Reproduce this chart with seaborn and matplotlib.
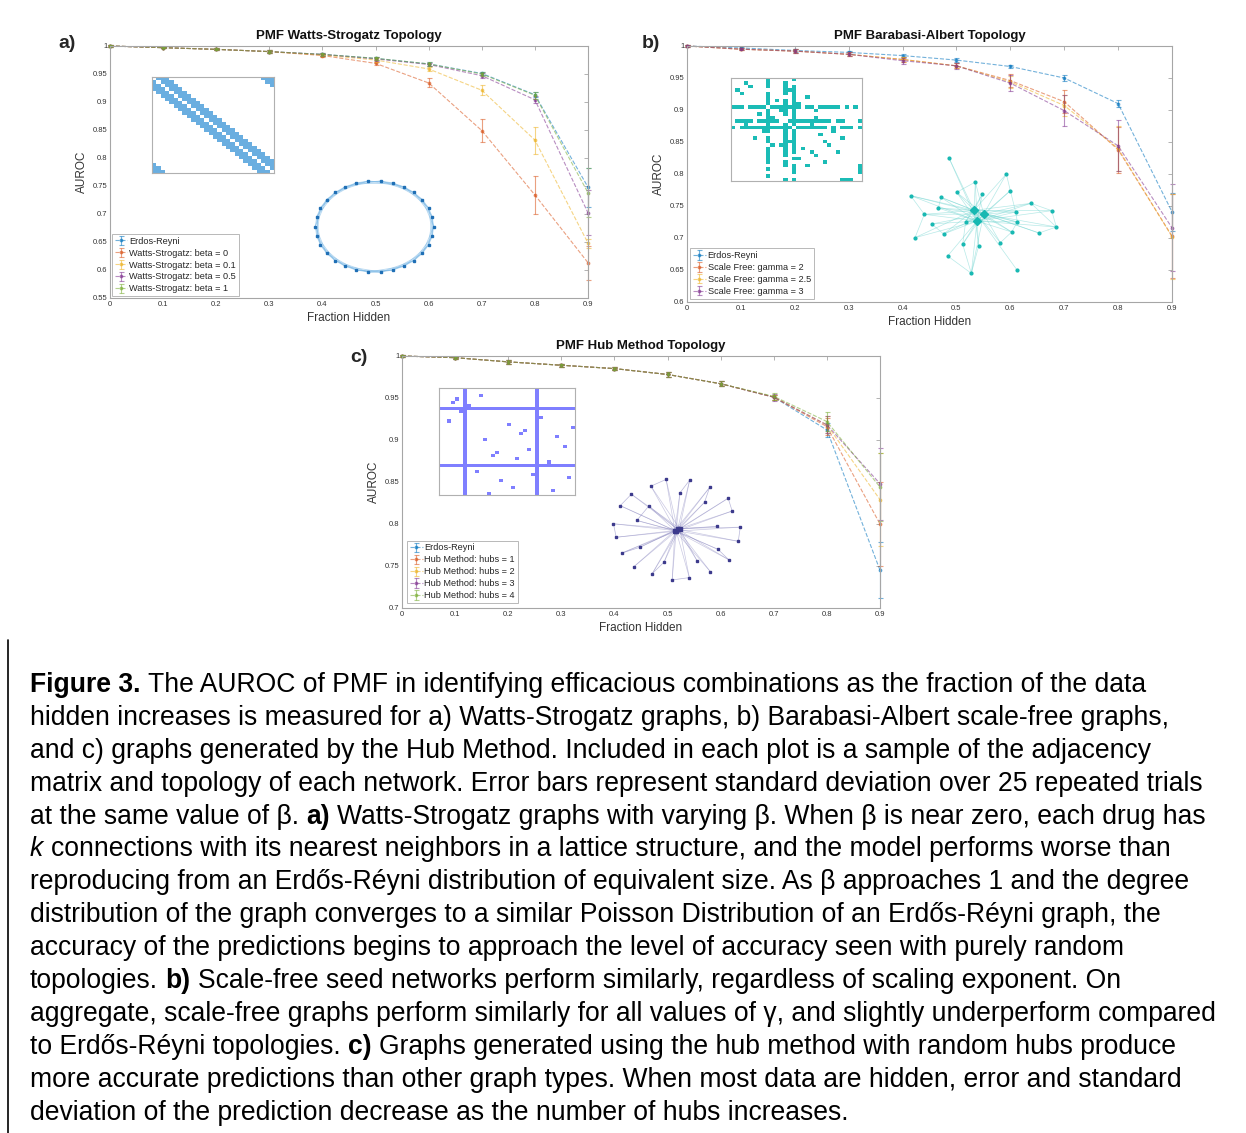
import re
import numpy as np
import matplotlib
matplotlib.use("Agg")
import matplotlib.pyplot as plt
from matplotlib.colors import ListedColormap
import seaborn as sns

# ---- data ----
frac_hidden = [0, 0.1, 0.2, 0.3, 0.4, 0.5, 0.6, 0.7, 0.8, 0.9]
x_tick_labels = ["0", "0.1", "0.2", "0.3", "0.4", "0.5", "0.6", "0.7", "0.8", "0.9"]

# a) Watts-Strogatz
ws_labels = ["Erdos-Reyni", "Watts-Strogatz: beta = 0", "Watts-Strogatz: beta = 0.1",
             "Watts-Strogatz: beta = 0.5", "Watts-Strogatz: beta = 1"]
ws_er = [1.0, 0.997, 0.994, 0.990, 0.985, 0.978, 0.968, 0.951, 0.913, 0.748]
ws_b0 = [1.0, 0.997, 0.994, 0.990, 0.983, 0.969, 0.934, 0.849, 0.734, 0.613]
ws_b01 = [1.0, 0.997, 0.994, 0.990, 0.984, 0.975, 0.959, 0.921, 0.832, 0.648]
ws_b05 = [1.0, 0.997, 0.994, 0.990, 0.985, 0.977, 0.967, 0.947, 0.904, 0.702]
ws_b1 = [1.0, 0.997, 0.994, 0.990, 0.985, 0.978, 0.968, 0.950, 0.912, 0.738]
ws_er_sd = [0.001, 0.001, 0.002, 0.002, 0.002, 0.003, 0.003, 0.003, 0.004, 0.035]
ws_b0_sd = [0.001, 0.001, 0.002, 0.002, 0.002, 0.003, 0.008, 0.021, 0.034, 0.030]
ws_b01_sd = [0.001, 0.001, 0.002, 0.002, 0.002, 0.003, 0.004, 0.009, 0.024, 0.008]
ws_b05_sd = [0.001, 0.001, 0.002, 0.002, 0.002, 0.003, 0.003, 0.004, 0.006, 0.040]
ws_b1_sd = [0.001, 0.001, 0.002, 0.002, 0.002, 0.003, 0.003, 0.004, 0.006, 0.044]
ws_yticks = [0.55, 0.6, 0.65, 0.7, 0.75, 0.8, 0.85, 0.9, 0.95, 1.0]
ws_yticklabels = ["0.55", "0.6", "0.65", "0.7", "0.75", "0.8", "0.85", "0.9", "0.95", "1"]

# b) Barabasi-Albert
ba_labels = ["Erdos-Reyni", "Scale Free: gamma = 2", "Scale Free: gamma = 2.5", "Scale Free: gamma = 3"]
ba_er = [1.0, 0.997, 0.993, 0.990, 0.985, 0.978, 0.968, 0.950, 0.910, 0.741]
ba_g2 = [1.0, 0.995, 0.992, 0.987, 0.979, 0.969, 0.946, 0.913, 0.838, 0.703]
ba_g25 = [1.0, 0.995, 0.992, 0.987, 0.979, 0.969, 0.944, 0.907, 0.840, 0.702]
ba_g3 = [1.0, 0.995, 0.992, 0.987, 0.977, 0.969, 0.942, 0.899, 0.844, 0.716]
ba_er_sd = [0.001, 0.002, 0.003, 0.002, 0.002, 0.003, 0.003, 0.004, 0.005, 0.030]
ba_g2_sd = [0.001, 0.002, 0.003, 0.003, 0.004, 0.004, 0.010, 0.018, 0.036, 0.065]
ba_g25_sd = [0.001, 0.002, 0.003, 0.003, 0.004, 0.004, 0.009, 0.017, 0.035, 0.066]
ba_g3_sd = [0.001, 0.002, 0.003, 0.003, 0.005, 0.005, 0.012, 0.024, 0.040, 0.068]
ba_yticks = [0.6, 0.65, 0.7, 0.75, 0.8, 0.85, 0.9, 0.95, 1.0]
ba_yticklabels = ["0.6", "0.65", "0.7", "0.75", "0.8", "0.85", "0.9", "0.95", "1"]

# c) Hub method
hm_labels = ["Erdos-Reyni", "Hub Method: hubs = 1", "Hub Method: hubs = 2",
             "Hub Method: hubs = 3", "Hub Method: hubs = 4"]
hm_er = [1.0, 0.998, 0.993, 0.989, 0.985, 0.978, 0.967, 0.951, 0.912, 0.745]
hm_h1 = [1.0, 0.998, 0.993, 0.989, 0.985, 0.978, 0.967, 0.951, 0.916, 0.800]
hm_h2 = [1.0, 0.998, 0.993, 0.989, 0.985, 0.978, 0.967, 0.951, 0.918, 0.829]
hm_h3 = [1.0, 0.998, 0.993, 0.989, 0.985, 0.978, 0.967, 0.951, 0.918, 0.848]
hm_h4 = [1.0, 0.998, 0.993, 0.989, 0.985, 0.978, 0.967, 0.952, 0.922, 0.844]
hm_er_sd = [0.001, 0.001, 0.002, 0.002, 0.002, 0.003, 0.003, 0.003, 0.008, 0.033]
hm_h1_sd = [0.001, 0.001, 0.002, 0.002, 0.002, 0.003, 0.003, 0.003, 0.010, 0.050]
hm_h2_sd = [0.001, 0.001, 0.002, 0.002, 0.002, 0.003, 0.003, 0.003, 0.010, 0.055]
hm_h3_sd = [0.001, 0.001, 0.002, 0.002, 0.002, 0.003, 0.003, 0.004, 0.010, 0.043]
hm_h4_sd = [0.001, 0.001, 0.002, 0.002, 0.002, 0.003, 0.003, 0.004, 0.011, 0.040]
hm_yticks = [0.7, 0.75, 0.8, 0.85, 0.9, 0.95, 1.0]
hm_yticklabels = ["0.7", "0.75", "0.8", "0.85", "0.9", "0.95", "1"]

# inset graphs (positions in the inset's own pixel frame)
ba_node_x = [162, 334, 241, 346, 185, 262, 138, 47, 408, 130, 470, 362, 88, 110, 212,
             367, 484, 146, 350, 432, 60, 316, 203, 251, 158, 366, 229, 237, 266, 246]
ba_node_y = [24, 72, 96, 122, 127, 133, 142, 137, 160, 174, 182, 186, 193, 222, 215,
             216, 231, 252, 246, 249, 263, 278, 283, 288, 318, 360, 370, 181, 192, 213]
ba_edges = [(0, 27), (0, 29), (1, 27), (1, 28), (2, 27), (2, 29), (2, 28), (3, 28), (3, 29),
            (4, 27), (4, 28), (4, 29), (5, 27), (5, 29), (6, 28), (6, 29), (6, 27),
            (7, 27), (7, 28), (7, 29), (8, 27), (8, 28), (8, 29), (9, 28), (9, 29), (9, 27),
            (10, 27), (10, 29), (11, 27), (11, 28), (11, 29), (12, 27), (12, 28), (12, 29),
            (13, 28), (13, 29), (14, 27), (14, 28), (14, 29), (15, 27), (15, 29), (15, 28),
            (16, 28), (16, 29), (17, 27), (17, 28), (17, 29), (18, 27), (18, 29), (18, 28),
            (19, 28), (19, 27), (20, 27), (20, 29), (21, 27), (21, 28), (22, 28), (22, 29),
            (23, 27), (23, 29), (24, 29), (25, 27), (26, 28), (26, 29),
            (27, 28), (28, 29), (27, 29), (10, 16), (8, 16), (19, 16), (24, 26), (22, 26),
            (23, 26), (2, 4), (11, 15), (1, 3), (8, 10), (13, 17), (6, 9), (5, 14),
            (18, 21), (7, 12), (12, 20), (3, 11), (15, 18), (14, 22)]
ba_hubs = [27, 28, 29]

hm_node_x = [196, 266, 151, 237, 325, 93, 380, 60, 145, 310, 392, 109, 40, 346, 416,
             48, 410, 118, 65, 350, 382, 288, 190, 100, 327, 155, 265, 214,
             222, 230, 236, 226]
hm_node_y = [28, 30, 48, 68, 52, 72, 84, 106, 107, 96, 122, 150, 160, 168, 170,
             200, 212, 230, 247, 236, 267, 270, 274, 288, 302, 308, 320, 327,
             180, 176, 174, 182]
hm_extra_edges = [(0, 2), (1, 3), (4, 9), (5, 7), (8, 11), (6, 10), (12, 15), (14, 16),
                  (17, 18), (19, 20), (26, 27), (25, 22)]
hm_hubs = [28, 29, 30, 31]

hm_mat_size = 34
hm_mat_hub_idx = [6, 24]
hm_mat_dots = [(3, 4), (4, 3), (2, 10), (10, 2), (7, 5), (5, 7), (11, 17), (13, 21), (14, 20),
               (16, 11), (20, 14), (21, 13), (19, 22), (22, 19), (9, 25), (15, 29), (18, 31),
               (12, 33), (23, 27), (27, 23), (26, 9), (29, 15), (31, 18), (33, 12), (32, 28),
               (28, 32)]

caption_lines = [
    "**Figure 3.** The AUROC of PMF in identifying efficacious combinations as the fraction of the data",
    "hidden increases is measured for a) Watts-Strogatz graphs, b) Barabasi-Albert scale-free graphs,",
    "and c) graphs generated by the Hub Method. Included in each plot is a sample of the adjacency",
    "matrix and topology of each network. Error bars represent standard deviation over 25 repeated trials",
    "at the same value of β. **a)** Watts-Strogatz graphs with varying β. When β is near zero, each drug has",
    "*k* connections with its nearest neighbors in a lattice structure, and the model performs worse than",
    "reproducing from an Erdős-Réyni distribution of equivalent size. As β approaches 1 and the degree",
    "distribution of the graph converges to a similar Poisson Distribution of an Erdős-Réyni graph, the",
    "accuracy of the predictions begins to approach the level of accuracy seen with purely random",
    "topologies. **b)** Scale-free seed networks perform similarly, regardless of scaling exponent. On",
    "aggregate, scale-free graphs perform similarly for all values of γ, and slightly underperform compared",
    "to Erdős-Réyni topologies. **c)** Graphs generated using the hub method with random hubs produce",
    "more accurate predictions than other graph types. When most data are hidden, error and standard",
    "deviation of the prediction decrease as the number of hubs increases.",
]

# ---- style ----
sns.set_theme(style="white")
plt.rcParams["font.family"] = ["Liberation Sans", "DejaVu Sans"]
matlab = sns.color_palette(["#0072BD", "#D95319", "#EDB120", "#7E2F8E", "#77AC30"])
AX_GREY = "#a6a6a6"

W, H = 1246, 1133
fig = plt.figure(figsize=(W / 100, H / 100), dpi=100)


def px_axes(x0, y0, x1, y1):
    return fig.add_axes([x0 / W, 1 - y1 / H, (x1 - x0) / W, (y1 - y0) / H])


def draw_panel(rect, title, labels, means, sds, ylim, yticks, yticklabels, legpad):
    ax = px_axes(*rect)
    handles = []
    for label, mean, sd, color in zip(labels, means, sds, matlab):
        sns.lineplot(x=frac_hidden, y=mean, ax=ax, color=color, linestyle="--", lw=0.8,
                     marker=".", markersize=4, mec=color, alpha=0.55, errorbar=None,
                     clip_on=False)
        line = ax.lines[-1]
        eb = ax.errorbar(frac_hidden, mean, yerr=sd, fmt="none", ecolor=color,
                         elinewidth=0.8, capsize=1.8, capthick=0.8, alpha=0.55)
        for art in eb.lines[1] + eb.lines[2]:
            art.set_clip_on(False)
        handles.append((line, eb))
    ax.set_xlim(0, 0.9)
    ax.set_ylim(*ylim)
    ax.set_xticks(frac_hidden)
    ax.set_xticklabels(x_tick_labels)
    ax.set_yticks(yticks)
    ax.set_yticklabels(yticklabels)
    ax.tick_params(direction="in", top=True, right=True, length=3, width=0.6,
                   color=AX_GREY, labelsize=5.5, labelcolor="#333333", pad=2)
    for s in ax.spines.values():
        s.set_color(AX_GREY)
        s.set_linewidth(0.8)
    ax.set_title(title, fontsize=9.5, fontweight="bold", pad=5, color="#111111")
    ax.set_xlabel("Fraction Hidden", fontsize=8.5, labelpad=3, color="#333333")
    ax.set_ylabel("AUROC", fontsize=8.5, labelpad=3, color="#333333")
    leg = ax.legend(handles, labels, loc="lower left", fontsize=6.6, frameon=True,
                    fancybox=False, edgecolor=AX_GREY, borderpad=0.3, labelspacing=0.32,
                    handlelength=1.4, handletextpad=0.2, borderaxespad=legpad)
    leg.get_frame().set_linewidth(0.7)
    return ax


draw_panel((110, 46, 588, 298), "PMF Watts-Strogatz Topology", ws_labels,
           [ws_er, ws_b0, ws_b01, ws_b05, ws_b1],
           [ws_er_sd, ws_b0_sd, ws_b01_sd, ws_b05_sd, ws_b1_sd],
           (0.55, 1.0), ws_yticks, ws_yticklabels, 0.2)
draw_panel((687, 46, 1172, 302), "PMF Barabasi-Albert Topology", ba_labels,
           [ba_er, ba_g2, ba_g25, ba_g3],
           [ba_er_sd, ba_g2_sd, ba_g25_sd, ba_g3_sd],
           (0.6, 1.0), ba_yticks, ba_yticklabels, 0.35)
draw_panel((402, 356, 880, 608), "PMF Hub Method Topology", hm_labels,
           [hm_er, hm_h1, hm_h2, hm_h3, hm_h4],
           [hm_er_sd, hm_h1_sd, hm_h2_sd, hm_h3_sd, hm_h4_sd],
           (0.7, 1.0), hm_yticks, hm_yticklabels, 0.55)

for txt, x, y in [("a)", 58, 44), ("b)", 642, 44), ("c)", 350, 358)]:
    fig.text(x / W, 1 - y / H, txt, fontsize=14, fontweight="bold", va="center", ha="left")


def matrix_inset(rect, mat, color):
    ax = px_axes(*rect)
    ax.imshow(mat, cmap=ListedColormap(["white", color]), aspect="auto",
              interpolation="nearest", vmin=0, vmax=1)
    ax.set_xticks([])
    ax.set_yticks([])
    for s in ax.spines.values():
        s.set_color("#b0b0b0")
        s.set_linewidth(0.8)


def bare_axes(rect, xlim, ylim):
    ax = px_axes(*rect)
    ax.set_xlim(*xlim)
    ax.set_ylim(*ylim)
    ax.axis("off")
    return ax


# a) ring lattice matrix + ring graph
n_ring, k_half = 28, 3
ring = np.zeros((n_ring, n_ring))
for i in range(n_ring):
    for d in range(1, k_half + 1):
        ring[i, (i + d) % n_ring] = 1
        ring[i, (i - d) % n_ring] = 1
matrix_inset((152, 77, 274, 173), ring, "#6aaee0")

ax_ring = bare_axes((313, 178, 436, 275), (-1.04, 1.04), (-1.06, 1.06))
theta = np.linspace(0, 2 * np.pi, 30, endpoint=False)
rx, ry = np.cos(theta), np.sin(theta)
for i in range(30):
    for d in range(1, k_half + 1):
        j = (i + d) % 30
        ax_ring.plot([rx[i], rx[j]], [ry[i], ry[j]], color="#7ab8e6", lw=0.6, alpha=0.55)
ax_ring.plot(rx, ry, ls="none", marker="s", ms=1.5, color="#1f6fb5")

# b) scale-free matrix + graph
order = list(range(0, 8)) + [27] + list(range(8, 11)) + [28] + [11] + [29] + list(range(12, 27))
pos_in_mat = {node: i for i, node in enumerate(order)}
n_ba = len(ba_node_x)
ba_mat = np.zeros((n_ba, n_ba))
for a, b in ba_edges:
    ba_mat[pos_in_mat[a], pos_in_mat[b]] = 1
    ba_mat[pos_in_mat[b], pos_in_mat[a]] = 1
matrix_inset((731, 78, 862, 181), ba_mat, "#1bbcb6")

ax_ba = bare_axes((895, 150, 1065, 280), (0, 510), (390, 0))
for a, b in ba_edges:
    ax_ba.plot([ba_node_x[a], ba_node_x[b]], [ba_node_y[a], ba_node_y[b]],
               color="#6fd4d0", lw=0.5, alpha=0.5)
ax_ba.plot(ba_node_x, ba_node_y, ls="none", marker="o", ms=2.0, color="#17b8b2")
ax_ba.plot([ba_node_x[h] for h in ba_hubs], [ba_node_y[h] for h in ba_hubs],
           ls="none", marker="D", ms=4.5, color="#17b8b2")

# c) hub-method matrix + graph
hm_mat = np.zeros((hm_mat_size, hm_mat_size))
for h in hm_mat_hub_idx:
    hm_mat[h, :] = 1
    hm_mat[:, h] = 1
for r, c in hm_mat_dots:
    hm_mat[r, c] = 1
matrix_inset((439, 388, 575, 495), hm_mat, "#7f7fff")

ax_hm = bare_axes((600, 470, 745, 585), (0, 430), (342, 0))
n_periph = len(hm_node_x) - len(hm_hubs)
for i in range(n_periph):
    for h in (hm_hubs[i % 4], hm_hubs[(i + 1) % 4]):
        ax_hm.plot([hm_node_x[i], hm_node_x[h]], [hm_node_y[i], hm_node_y[h]],
                   color="#8a87c0", lw=0.5, alpha=0.45)
for a, b in hm_extra_edges:
    ax_hm.plot([hm_node_x[a], hm_node_x[b]], [hm_node_y[a], hm_node_y[b]],
               color="#8a87c0", lw=0.5, alpha=0.6)
ax_hm.plot(hm_node_x[:n_periph], hm_node_y[:n_periph], ls="none", marker="s", ms=1.5,
           color="#3c3a8c")
ax_hm.plot(hm_node_x[n_periph:], hm_node_y[n_periph:], ls="none", marker="s", ms=3.5,
           color="#3c3a8c")

# ---- caption ----
CAP_SIZE = 19.1
renderer = fig.canvas.get_renderer()


def text_width(s, **kw):
    t = fig.text(0, 0, s, fontsize=CAP_SIZE, **kw)
    w = t.get_window_extent(renderer=renderer).width
    t.remove()
    return w


space_px = text_width("a a") - text_width("aa")


def rich_line(y_px, line, x_px=30):
    x = x_px
    parts = re.split(r"(\*\*.+?\*\*|\*.+?\*)", line)
    for part in parts:
        if not part:
            continue
        kw = {}
        if part.startswith("**"):
            part = part[2:-2]
            kw["fontweight"] = "bold"
        elif part.startswith("*"):
            part = part[1:-1]
            kw["fontstyle"] = "italic"
        if part.startswith(" "):
            x += space_px
        core = part.strip()
        if core:
            t = fig.text(x / W, 1 - y_px / H, core, fontsize=CAP_SIZE, va="center",
                         ha="left", color="black", **kw)
            x = t.get_window_extent(renderer=renderer).x1
        if part.endswith(" ") and part.strip():
            x += space_px


for i, line in enumerate(caption_lines):
    rich_line(685 + i * 32.9, line)

fig.add_artist(plt.Line2D([8 / W, 8 / W], [0, 1 - 640 / H], transform=fig.transFigure,
                          color="black", lw=1.2))

fig.savefig("out.png", dpi=100)
